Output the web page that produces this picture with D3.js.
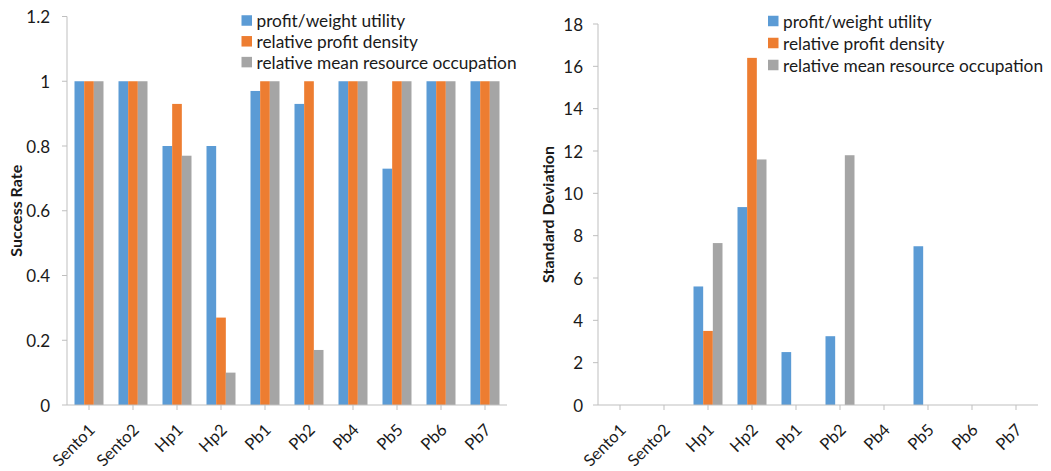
<!DOCTYPE html>
<html><head><meta charset="utf-8">
<script src="https://cdn.jsdelivr.net/npm/d3@7"></script>
<style>
body{margin:0;background:#fff;}
text{font-family:Lato,"Open Sans",sans-serif;fill:#1a1a1a;}
</style></head>
<body>
<svg id="chart" width="1051" height="471"></svg>
<script>
const categories = ["Sento1","Sento2","Hp1","Hp2","Pb1","Pb2","Pb4","Pb5","Pb6","Pb7"];
const seriesNames = ["profit/weight utility","relative profit density","relative mean resource occupation"];
const colors = ["#5B9BD5","#ED7D31","#A5A5A5"];

const successPW  = [1,1,0.8,0.8,0.97,0.93,1,0.73,1,1];
const successRPD = [1,1,0.93,0.27,1,1,1,1,1,1];
const successRMO = [1,1,0.77,0.1,1,0.17,1,1,1,1];

const stdPW  = [0,0,5.6,9.35,2.5,3.25,0,7.5,0,0];
const stdRPD = [0,0,3.5,16.4,0,0,0,0,0,0];
const stdRMO = [0,0,7.65,11.6,0,11.8,0,0,0,0];

const successTicks = [0,0.2,0.4,0.6,0.8,1,1.2];
const stdTicks = [0,2,4,6,8,10,12,14,16,18];

const svg = d3.select("#chart");
const AXIS = "#bfbfbf";

function drawChart(cfg){
  const g = svg.append("g");
  const x = d3.scaleBand().domain(categories).range([cfg.x0, cfg.x1]).padding(0);
  const groupW = 29;
  const xi = d3.scaleBand().domain(d3.range(3)).range([0, groupW]).padding(0);
  const y = d3.scaleLinear().domain([0, cfg.ymax]).range([405, cfg.ytop]);

  cfg.series.forEach((vals, si) => {
    g.append("g").selectAll("rect").data(vals).join("rect")
      .attr("x", (d,i) => x(categories[i]) + (x.bandwidth()-groupW)/2 + xi(si))
      .attr("width", xi.bandwidth())
      .attr("y", d => y(d))
      .attr("height", d => y(0) - y(d))
      .attr("fill", colors[si]);
  });

  // y axis line + ticks
  g.append("line").attr("x1",cfg.x0).attr("x2",cfg.x0).attr("y1",y(cfg.ymax)).attr("y2",405).attr("stroke",AXIS);
  g.append("g").selectAll("line").data(cfg.ticks).join("line")
    .attr("x1",cfg.x0-5).attr("x2",cfg.x0).attr("y1",d=>y(d)).attr("y2",d=>y(d)).attr("stroke",AXIS);
  g.append("g").selectAll("text").data(cfg.ticks).join("text")
    .attr("x",cfg.x0-cfg.labelGap).attr("y",d=>y(d)).attr("text-anchor","end")
    .attr("dominant-baseline","central").style("font-size","17px")
    .text(d=>d3.format("~g")(d));

  // x axis
  g.append("line").attr("x1",cfg.x0).attr("x2",cfg.x1).attr("y1",405).attr("y2",405).attr("stroke",AXIS);
  g.append("g").selectAll("line").data(categories).join("line")
    .attr("x1",d=>x(d)+x.bandwidth()/2).attr("x2",d=>x(d)+x.bandwidth()/2)
    .attr("y1",405).attr("y2",410).attr("stroke",AXIS);
  g.append("g").selectAll("text").data(categories).join("text")
    .attr("transform", d => `translate(${x(d)+x.bandwidth()/2+7},431) rotate(-45)`)
    .attr("text-anchor","end").style("font-size","16.5px")
    .text(d=>d);

  // y title
  g.append("text")
    .attr("transform", `translate(${cfg.titleX},${(cfg.ytop+405)/2}) rotate(-90)`)
    .attr("text-anchor","middle").attr("dominant-baseline","central")
    .style("font-size","16px").style("font-weight","bold")
    .text(cfg.title);

  // legend
  seriesNames.forEach((s, i) => {
    const cy = cfg.legY + i*cfg.legStep;
    g.append("rect").attr("x", cfg.legX).attr("y", cy-5.25).attr("width",10.5).attr("height",10.5).attr("fill",colors[i]);
    g.append("text").attr("x", cfg.legX+15).attr("y", cy).attr("dominant-baseline","central")
      .style("font-size","17.3px").text(s);
  });
}

drawChart({x0:67, x1:507, ymax:1.2, ytop:16.5, ticks:successTicks,
  series:[successPW, successRPD, successRMO], title:"Success Rate", titleX:15,
  legX:241.5, legY:20.5, legStep:20.8, labelGap:17});
drawChart({x0:598, x1:1038, ymax:18, ytop:24, ticks:stdTicks,
  series:[stdPW, stdRPD, stdRMO], title:"Standard Deviation", titleX:547,
  legX:768, legY:21, legStep:22, labelGap:15});
</script>
</body></html>
